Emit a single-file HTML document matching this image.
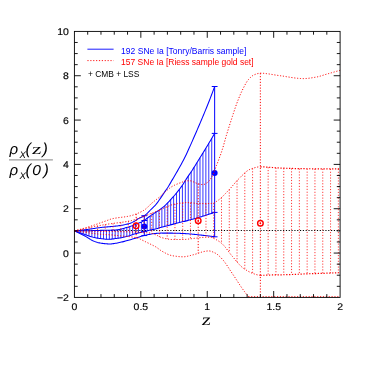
<!DOCTYPE html>
<html><head><meta charset="utf-8"><title>rho_X(z)</title>
<style>
html,body{margin:0;padding:0;background:#fff;}
body{width:371px;height:371px;overflow:hidden;font-family:"Liberation Sans",sans-serif;}
svg{display:block;will-change:transform;}
</style></head><body>
<svg width="371" height="371" viewBox="0 0 371 371">
<rect width="371" height="371" fill="#fff"/>
<path d="M74.4,230.55 H340.1" stroke="#000" stroke-width="1.1" stroke-dasharray="1.15 1.67" fill="none"/>
<path d="M74.40,230.90 L75.40,230.81 L76.40,230.72 L77.40,230.63 L78.40,230.53 L79.40,230.43 L80.40,230.32 L81.40,230.21 L82.40,230.10 L83.40,229.99 L84.40,229.87 L85.40,229.75 L86.40,229.62 L87.40,229.48 L88.40,229.34 L89.40,229.19 L90.40,229.03 L91.40,228.88 L92.40,228.72 L93.40,228.56 L94.40,228.40 L95.40,228.24 L96.40,228.09 L97.40,227.94 L98.40,227.80 L99.40,227.67 L100.40,227.55 L101.40,227.44 L102.40,227.33 L103.40,227.23 L104.40,227.14 L105.40,227.05 L106.40,226.96 L107.40,226.87 L108.40,226.79 L109.40,226.70 L110.40,226.61 L111.40,226.53 L112.40,226.43 L113.40,226.34 L114.40,226.24 L115.40,226.13 L116.40,226.02 L117.40,225.90 L118.40,225.77 L119.40,225.63 L120.40,225.48 L121.40,225.33 L122.40,225.16 L123.40,224.98 L124.40,224.79 L125.40,224.59 L126.40,224.36 L127.40,224.12 L128.40,223.86 L129.40,223.58 L130.40,223.27 L131.40,222.86 L132.40,222.36 L133.40,221.83 L134.40,221.27 L135.40,220.64 L136.40,219.96 L137.40,219.28 L138.40,218.66 L139.40,218.13 L140.40,217.66 L141.40,217.21 L142.40,216.75 L143.40,216.24 L144.40,215.63 L145.40,214.89 L146.40,214.03 L147.40,213.07 L148.40,212.06 L149.40,211.02 L150.40,210.00 L151.40,209.01 L152.40,208.05 L153.40,207.09 L154.40,206.09 L155.40,205.03 L156.40,203.90 L157.40,202.64 L158.40,201.25 L159.40,199.81 L160.40,198.37 L161.40,196.88 L162.40,195.37 L163.40,193.85 L164.40,192.36 L165.40,190.92 L166.40,189.49 L167.40,188.03 L168.40,186.48 L169.40,184.84 L170.40,183.12 L171.40,181.36 L172.40,179.62 L173.40,177.90 L174.40,176.21 L175.40,174.52 L176.40,172.82 L177.40,171.11 L178.40,169.36 L179.40,167.58 L180.40,165.76 L181.40,163.93 L182.40,162.06 L183.40,160.16 L184.40,158.22 L185.40,156.23 L186.40,154.18 L187.40,152.02 L188.40,149.80 L189.40,147.58 L190.40,145.35 L191.40,143.11 L192.40,140.85 L193.40,138.58 L194.40,136.30 L195.40,134.01 L196.40,131.71 L197.40,129.40 L198.40,127.07 L199.40,124.73 L200.40,122.38 L201.40,120.02 L202.40,117.64 L203.40,115.25 L204.40,112.83 L205.40,110.41 L206.40,107.98 L207.40,105.52 L208.40,103.02 L209.40,100.48 L210.40,97.89 L211.40,95.27 L212.40,92.61 L213.40,89.92 L214.40,87.19 L214.65,86.50" stroke="#0000ff" stroke-width="1.05" fill="none" stroke-linejoin="round"/>
<path d="M74.40,230.90 L75.40,230.90 L76.40,230.89 L77.40,230.89 L78.40,230.88 L79.40,230.87 L80.40,230.86 L81.40,230.85 L82.40,230.83 L83.40,230.82 L84.40,230.81 L85.40,230.79 L86.40,230.78 L87.40,230.76 L88.40,230.74 L89.40,230.71 L90.40,230.68 L91.40,230.66 L92.40,230.63 L93.40,230.60 L94.40,230.57 L95.40,230.54 L96.40,230.50 L97.40,230.47 L98.40,230.44 L99.40,230.42 L100.40,230.39 L101.40,230.37 L102.40,230.34 L103.40,230.32 L104.40,230.30 L105.40,230.28 L106.40,230.26 L107.40,230.24 L108.40,230.22 L109.40,230.20 L110.40,230.17 L111.40,230.14 L112.40,230.11 L113.40,230.07 L114.40,230.03 L115.40,229.98 L116.40,229.89 L117.40,229.76 L118.40,229.60 L119.40,229.41 L120.40,229.19 L121.40,228.95 L122.40,228.69 L123.40,228.42 L124.40,228.14 L125.40,227.85 L126.40,227.56 L127.40,227.27 L128.40,226.99 L129.40,226.68 L130.40,226.35 L131.40,226.01 L132.40,225.64 L133.40,225.26 L134.40,224.87 L135.40,224.47 L136.40,224.06 L137.40,223.65 L138.40,223.24 L139.40,222.83 L140.40,222.42 L141.40,222.00 L142.40,221.53 L143.40,221.02 L144.40,220.44 L145.40,219.67 L146.40,218.78 L147.40,217.97 L148.40,217.24 L149.40,216.53 L150.40,215.84 L151.40,215.17 L152.40,214.50 L153.40,213.84 L154.40,213.17 L155.40,212.51 L156.40,211.86 L157.40,211.22 L158.40,210.57 L159.40,209.89 L160.40,209.18 L161.40,208.45 L162.40,207.69 L163.40,206.89 L164.40,206.04 L165.40,205.12 L166.40,204.14 L167.40,203.13 L168.40,202.09 L169.40,201.02 L170.40,199.92 L171.40,198.79 L172.40,197.68 L173.40,196.58 L174.40,195.48 L175.40,194.36 L176.40,193.18 L177.40,191.95 L178.40,190.69 L179.40,189.39 L180.40,188.04 L181.40,186.65 L182.40,185.21 L183.40,183.67 L184.40,182.07 L185.40,180.46 L186.40,178.89 L187.40,177.38 L188.40,175.89 L189.40,174.41 L190.40,172.93 L191.40,171.44 L192.40,169.93 L193.40,168.38 L194.40,166.79 L195.40,165.19 L196.40,163.57 L197.40,161.94 L198.40,160.31 L199.40,158.69 L200.40,157.07 L201.40,155.46 L202.40,153.85 L203.40,152.24 L204.40,150.62 L205.40,148.99 L206.40,147.34 L207.40,145.68 L208.40,144.01 L209.40,142.34 L210.40,140.66 L211.40,138.96 L212.40,137.26 L213.40,135.55 L214.40,133.83 L214.65,133.40" stroke="#0000ff" stroke-width="1.05" fill="none" stroke-linejoin="round"/>
<path d="M74.40,230.90 L75.40,231.26 L76.40,231.61 L77.40,231.97 L78.40,232.32 L79.40,232.67 L80.40,233.01 L81.40,233.35 L82.40,233.69 L83.40,234.03 L84.40,234.36 L85.40,234.70 L86.40,235.05 L87.40,235.42 L88.40,235.79 L89.40,236.15 L90.40,236.49 L91.40,236.81 L92.40,237.10 L93.40,237.35 L94.40,237.56 L95.40,237.76 L96.40,237.95 L97.40,238.12 L98.40,238.28 L99.40,238.42 L100.40,238.55 L101.40,238.69 L102.40,238.82 L103.40,238.95 L104.40,239.07 L105.40,239.17 L106.40,239.25 L107.40,239.29 L108.40,239.30 L109.40,239.27 L110.40,239.20 L111.40,239.11 L112.40,239.00 L113.40,238.87 L114.40,238.74 L115.40,238.60 L116.40,238.47 L117.40,238.34 L118.40,238.19 L119.40,238.03 L120.40,237.86 L121.40,237.68 L122.40,237.49 L123.40,237.29 L124.40,237.08 L125.40,236.86 L126.40,236.61 L127.40,236.35 L128.40,236.08 L129.40,235.78 L130.40,235.47 L131.40,235.10 L132.40,234.71 L133.40,234.33 L134.40,234.01 L135.40,233.73 L136.40,233.47 L137.40,233.22 L138.40,232.99 L139.40,232.76 L140.40,232.53 L141.40,232.29 L142.40,232.05 L143.40,231.80 L144.40,231.55 L145.40,231.30 L146.40,231.05 L147.40,230.80 L148.40,230.56 L149.40,230.31 L150.40,230.08 L151.40,229.85 L152.40,229.63 L153.40,229.41 L154.40,229.18 L155.40,228.95 L156.40,228.70 L157.40,228.42 L158.40,228.13 L159.40,227.84 L160.40,227.54 L161.40,227.26 L162.40,226.98 L163.40,226.71 L164.40,226.44 L165.40,226.18 L166.40,225.92 L167.40,225.66 L168.40,225.40 L169.40,225.14 L170.40,224.88 L171.40,224.63 L172.40,224.37 L173.40,224.12 L174.40,223.86 L175.40,223.61 L176.40,223.35 L177.40,223.09 L178.40,222.84 L179.40,222.59 L180.40,222.35 L181.40,222.10 L182.40,221.86 L183.40,221.61 L184.40,221.37 L185.40,221.12 L186.40,220.87 L187.40,220.62 L188.40,220.36 L189.40,220.10 L190.40,219.84 L191.40,219.57 L192.40,219.30 L193.40,219.02 L194.40,218.74 L195.40,218.45 L196.40,218.15 L197.40,217.86 L198.40,217.56 L199.40,217.25 L200.40,216.95 L201.40,216.64 L202.40,216.32 L203.40,216.01 L204.40,215.70 L205.40,215.38 L206.40,215.06 L207.40,214.75 L208.40,214.43 L209.40,214.11 L210.40,213.79 L211.40,213.47 L212.40,213.14 L213.40,212.81 L214.40,212.48 L214.65,212.40" stroke="#0000ff" stroke-width="1.05" fill="none" stroke-linejoin="round"/>
<path d="M74.40,230.90 L75.40,231.36 L76.40,231.82 L77.40,232.29 L78.40,232.77 L79.40,233.25 L80.40,233.74 L81.40,234.22 L82.40,234.71 L83.40,235.21 L84.40,235.73 L85.40,236.26 L86.40,236.85 L87.40,237.48 L88.40,238.13 L89.40,238.79 L90.40,239.42 L91.40,240.01 L92.40,240.54 L93.40,240.98 L94.40,241.38 L95.40,241.76 L96.40,242.10 L97.40,242.40 L98.40,242.66 L99.40,242.87 L100.40,243.07 L101.40,243.24 L102.40,243.39 L103.40,243.52 L104.40,243.62 L105.40,243.71 L106.40,243.80 L107.40,243.87 L108.40,243.92 L109.40,243.95 L110.40,243.93 L111.40,243.86 L112.40,243.75 L113.40,243.62 L114.40,243.48 L115.40,243.34 L116.40,243.18 L117.40,242.98 L118.40,242.77 L119.40,242.55 L120.40,242.33 L121.40,242.11 L122.40,241.87 L123.40,241.63 L124.40,241.37 L125.40,241.10 L126.40,240.81 L127.40,240.52 L128.40,240.24 L129.40,239.97 L130.40,239.69 L131.40,239.40 L132.40,239.11 L133.40,238.81 L134.40,238.51 L135.40,238.20 L136.40,237.88 L137.40,237.56 L138.40,237.24 L139.40,236.92 L140.40,236.61 L141.40,236.32 L142.40,236.05 L143.40,235.78 L144.40,235.52 L145.40,235.26 L146.40,235.02 L147.40,234.79 L148.40,234.57 L149.40,234.36 L150.40,234.18 L151.40,234.01 L152.40,233.85 L153.40,233.70 L154.40,233.56 L155.40,233.45 L156.40,233.37 L157.40,233.29 L158.40,233.22 L159.40,233.16 L160.40,233.12 L161.40,233.10 L162.40,233.10 L163.40,233.10 L164.40,233.10 L165.40,233.10 L166.40,233.10 L167.40,233.10 L168.40,233.10 L169.40,233.10 L170.40,233.11 L171.40,233.12 L172.40,233.13 L173.40,233.15 L174.40,233.18 L175.40,233.21 L176.40,233.24 L177.40,233.27 L178.40,233.31 L179.40,233.35 L180.40,233.39 L181.40,233.43 L182.40,233.47 L183.40,233.51 L184.40,233.56 L185.40,233.62 L186.40,233.68 L187.40,233.75 L188.40,233.82 L189.40,233.90 L190.40,233.98 L191.40,234.07 L192.40,234.17 L193.40,234.26 L194.40,234.36 L195.40,234.47 L196.40,234.57 L197.40,234.68 L198.40,234.79 L199.40,234.90 L200.40,235.02 L201.40,235.13 L202.40,235.24 L203.40,235.36 L204.40,235.47 L205.40,235.58 L206.40,235.70 L207.40,235.82 L208.40,235.94 L209.40,236.07 L210.40,236.21 L211.40,236.34 L212.40,236.48 L213.40,236.62 L214.40,236.76 L214.65,236.80" stroke="#0000ff" stroke-width="1.05" fill="none" stroke-linejoin="round"/>
<path d="M77.31,230.89 V231.94 M80.23,230.86 V232.95 M83.14,230.82 V233.94 M86.05,230.78 V234.93 M88.96,230.72 V235.99 M91.88,230.64 V236.96 M94.79,230.55 V237.64 M97.70,230.47 V238.17 M100.61,230.38 V238.58 M103.53,230.32 V238.97 M106.44,230.26 V239.25 M109.35,230.20 V239.27 M112.26,230.11 V239.01 M115.18,229.99 V238.63 M118.09,229.66 V238.24 M121.00,229.05 V237.75 M123.91,228.28 V237.18 M126.83,227.44 V236.50 M129.74,226.57 V235.68 M132.65,225.55 V234.61 M135.56,224.40 V233.69 M138.48,223.21 V232.97 M141.39,222.00 V232.30 M147.23,218.10 V230.85 M150.16,216.01 V230.13 M153.09,214.04 V229.47 M156.03,212.10 V228.79 M158.96,210.20 V227.97 M161.89,208.09 V227.12 M164.82,205.66 V226.33 M167.75,202.76 V225.57 M170.68,199.60 V224.81 M173.61,196.35 V224.06 M176.54,193.01 V223.31 M179.48,189.29 V222.58 M182.41,185.20 V221.85 M185.34,180.56 V221.13 M188.27,176.08 V220.40 M191.20,171.74 V219.63 M194.13,167.22 V218.81 M197.06,162.49 V217.96 M199.99,157.73 V217.07 M202.93,153.01 V216.16 M205.86,148.24 V215.24 M208.79,143.37 V214.31 M211.72,138.42 V213.36" stroke="#0000ff" stroke-width="0.8" fill="none"/>
<path d="M144.3,215.70 V235.55 M141.40,215.70 h5.8 M141.40,220.50 h5.8 M141.40,231.58 h5.8 M141.40,235.55 h5.8 M214.65,86.50 V236.80 M211.75,86.50 h5.8 M211.75,133.40 h5.8 M211.75,212.40 h5.8 M211.75,236.80 h5.8" stroke="#0000ff" stroke-width="1.0" fill="none"/>
<circle cx="144.3" cy="226.4" r="3.0" fill="#0000ff"/>
<circle cx="214.65" cy="172.95" r="3.0" fill="#0000ff"/>
<path d="M74.40,230.90 L75.40,230.65 L76.40,230.39 L77.40,230.13 L78.40,229.86 L79.40,229.59 L80.40,229.31 L81.40,229.03 L82.40,228.74 L83.40,228.45 L84.40,228.15 L85.40,227.85 L86.40,227.55 L87.40,227.24 L88.40,226.93 L89.40,226.62 L90.40,226.30 L91.40,225.98 L92.40,225.66 L93.40,225.33 L94.40,225.00 L95.40,224.65 L96.40,224.29 L97.40,223.93 L98.40,223.57 L99.40,223.21 L100.40,222.86 L101.40,222.51 L102.40,222.16 L103.40,221.81 L104.40,221.46 L105.40,221.11 L106.40,220.76 L107.40,220.38 L108.40,219.99 L109.40,219.61 L110.40,219.26 L111.40,218.95 L112.40,218.71 L113.40,218.49 L114.40,218.30 L115.40,218.13 L116.40,217.97 L117.40,217.82 L118.40,217.68 L119.40,217.55 L120.40,217.42 L121.40,217.30 L122.40,217.17 L123.40,217.05 L124.40,216.91 L125.40,216.76 L126.40,216.61 L127.40,216.44 L128.40,216.25 L129.40,216.04 L130.40,215.80 L131.40,215.55 L132.40,215.27 L133.40,214.96 L134.40,214.63 L135.40,214.27 L136.40,213.89 L137.40,213.49 L138.40,213.06 L139.40,212.61 L140.40,212.13 L141.40,211.63 L142.40,211.10 L143.40,210.54 L144.40,209.95 L145.40,209.23 L146.40,208.39 L147.40,207.45 L148.40,206.46 L149.40,205.45 L150.40,204.46 L151.40,203.52 L152.40,202.67 L153.40,201.85 L154.40,201.06 L155.40,200.27 L156.40,199.49 L157.40,198.73 L158.40,197.97 L159.40,197.19 L160.40,196.33 L161.40,195.37 L162.40,194.36 L163.40,193.36 L164.40,192.43 L165.40,191.57 L166.40,190.73 L167.40,189.93 L168.40,189.14 L169.40,188.37 L170.40,187.61 L171.40,186.90 L172.40,186.28 L173.40,185.74 L174.40,185.25 L175.40,184.79 L176.40,184.36 L177.40,183.94 L178.40,183.54 L179.40,183.15 L180.40,182.78 L181.40,182.41 L182.40,182.05 L183.40,181.62 L184.40,181.19 L185.40,180.89 L186.40,180.80 L187.40,180.80 L188.40,180.80 L189.40,180.80 L190.40,180.82 L191.40,181.02 L192.40,181.39 L193.40,181.85 L194.40,182.35 L195.40,182.81 L196.40,183.17 L197.40,183.45 L198.40,183.75 L199.40,184.03 L200.40,184.28 L201.40,184.47 L202.40,184.58 L203.40,184.58 L204.40,184.34 L205.40,183.87 L206.40,183.23 L207.40,182.47 L208.40,181.62 L209.40,180.70 L210.40,179.38 L211.40,177.76 L212.40,176.02 L213.40,173.98 L214.40,171.40 L215.40,168.36 L216.40,165.68 L217.40,163.12 L218.40,160.53 L219.40,157.86 L220.40,155.14 L221.40,152.30 L222.40,149.26 L223.40,145.91 L224.40,142.36 L225.40,138.78 L226.40,135.33 L227.40,132.06 L228.40,128.85 L229.40,125.69 L230.40,122.58 L231.40,119.51 L232.40,116.43 L233.40,113.34 L234.40,110.28 L235.40,107.30 L236.40,104.45 L237.40,101.78 L238.40,99.22 L239.40,96.74 L240.40,94.37 L241.40,92.12 L242.40,90.00 L243.40,88.02 L244.40,86.07 L245.40,84.19 L246.40,82.45 L247.40,80.90 L248.40,79.61 L249.40,78.52 L250.40,77.51 L251.40,76.60 L252.40,75.81 L253.40,75.18 L254.40,74.72 L255.40,74.33 L256.40,73.98 L257.40,73.66 L258.40,73.42 L259.40,73.26 L260.40,73.20 L261.40,73.21 L262.40,73.25 L263.40,73.31 L264.40,73.39 L265.40,73.49 L266.40,73.61 L267.40,73.74 L268.40,73.88 L269.40,74.03 L270.40,74.19 L271.40,74.36 L272.40,74.52 L273.40,74.69 L274.40,74.86 L275.40,75.03 L276.40,75.19 L277.40,75.34 L278.40,75.48 L279.40,75.61 L280.40,75.74 L281.40,75.88 L282.40,76.03 L283.40,76.18 L284.40,76.34 L285.40,76.50 L286.40,76.67 L287.40,76.83 L288.40,77.00 L289.40,77.16 L290.40,77.32 L291.40,77.48 L292.40,77.63 L293.40,77.78 L294.40,77.91 L295.40,78.04 L296.40,78.16 L297.40,78.27 L298.40,78.36 L299.40,78.44 L300.40,78.51 L301.40,78.56 L302.40,78.59 L303.40,78.60 L304.40,78.59 L305.40,78.55 L306.40,78.48 L307.40,78.40 L308.40,78.29 L309.40,78.17 L310.40,78.03 L311.40,77.88 L312.40,77.72 L313.40,77.56 L314.40,77.40 L315.40,77.23 L316.40,77.06 L317.40,76.85 L318.40,76.61 L319.40,76.35 L320.40,76.07 L321.40,75.77 L322.40,75.46 L323.40,75.15 L324.40,74.83 L325.40,74.52 L326.40,74.21 L327.40,73.91 L328.40,73.63 L329.40,73.35 L330.40,73.07 L331.40,72.78 L332.40,72.50 L333.40,72.22 L334.40,71.93 L335.40,71.65 L336.40,71.36 L337.40,71.07 L338.40,70.79 L339.40,70.50 L340.10,70.30" stroke="#ff0000" stroke-width="1.0" stroke-dasharray="1.15 1.72" fill="none"/>
<path d="M74.40,230.90 L75.40,230.67 L76.40,230.44 L77.40,230.21 L78.40,229.98 L79.40,229.76 L80.40,229.54 L81.40,229.32 L82.40,229.10 L83.40,228.88 L84.40,228.67 L85.40,228.45 L86.40,228.24 L87.40,228.03 L88.40,227.82 L89.40,227.61 L90.40,227.41 L91.40,227.20 L92.40,227.00 L93.40,226.80 L94.40,226.60 L95.40,226.40 L96.40,226.20 L97.40,226.01 L98.40,225.81 L99.40,225.62 L100.40,225.42 L101.40,225.23 L102.40,225.04 L103.40,224.86 L104.40,224.68 L105.40,224.50 L106.40,224.33 L107.40,224.18 L108.40,224.02 L109.40,223.88 L110.40,223.74 L111.40,223.61 L112.40,223.48 L113.40,223.35 L114.40,223.23 L115.40,223.10 L116.40,222.98 L117.40,222.86 L118.40,222.73 L119.40,222.61 L120.40,222.48 L121.40,222.34 L122.40,222.20 L123.40,222.06 L124.40,221.91 L125.40,221.75 L126.40,221.58 L127.40,221.41 L128.40,221.22 L129.40,221.02 L130.40,220.81 L131.40,220.58 L132.40,220.31 L133.40,220.02 L134.40,219.71 L135.40,219.38 L136.40,219.03 L137.40,218.67 L138.40,218.30 L139.40,217.93 L140.40,217.55 L141.40,217.17 L142.40,216.79 L143.40,216.42 L144.40,216.05 L145.40,215.68 L146.40,215.30 L147.40,214.92 L148.40,214.53 L149.40,214.13 L150.40,213.73 L151.40,213.33 L152.40,212.93 L153.40,212.53 L154.40,212.13 L155.40,211.74 L156.40,211.35 L157.40,210.97 L158.40,210.59 L159.40,210.20 L160.40,209.76 L161.40,209.27 L162.40,208.74 L163.40,208.23 L164.40,207.77 L165.40,207.36 L166.40,206.98 L167.40,206.61 L168.40,206.22 L169.40,205.79 L170.40,205.36 L171.40,204.96 L172.40,204.64 L173.40,204.39 L174.40,204.16 L175.40,203.96 L176.40,203.78 L177.40,203.61 L178.40,203.46 L179.40,203.32 L180.40,203.19 L181.40,203.05 L182.40,202.91 L183.40,202.78 L184.40,202.67 L185.40,202.61 L186.40,202.60 L187.40,202.61 L188.40,202.63 L189.40,202.66 L190.40,202.70 L191.40,202.76 L192.40,202.88 L193.40,203.04 L194.40,203.21 L195.40,203.37 L196.40,203.50 L197.40,203.59 L198.40,203.60 L199.40,203.60 L200.40,203.60 L201.40,203.59 L202.40,203.59 L203.40,203.58 L204.40,203.57 L205.40,203.55 L206.40,203.54 L207.40,203.52 L208.40,203.50 L209.40,203.48 L210.40,203.46 L211.40,203.43 L212.40,203.40 L213.40,203.21 L214.40,202.77 L215.40,202.16 L216.40,201.48 L217.40,200.80 L218.40,200.11 L219.40,199.34 L220.40,198.50 L221.40,197.60 L222.40,196.66 L223.40,195.67 L224.40,194.65 L225.40,193.62 L226.40,192.57 L227.40,191.53 L228.40,190.50 L229.40,189.45 L230.40,188.34 L231.40,187.20 L232.40,186.02 L233.40,184.84 L234.40,183.65 L235.40,182.48 L236.40,181.34 L237.40,180.24 L238.40,179.19 L239.40,178.21 L240.40,177.22 L241.40,176.21 L242.40,175.20 L243.40,174.21 L244.40,173.26 L245.40,172.35 L246.40,171.52 L247.40,170.77 L248.40,170.13 L249.40,169.61 L250.40,169.21 L251.40,168.84 L252.40,168.48 L253.40,168.14 L254.40,167.83 L255.40,167.54 L256.40,167.30 L257.40,167.09 L258.40,166.94 L259.40,166.84 L260.35,166.80" stroke="#ff0000" stroke-width="1.0" stroke-dasharray="1.15 1.72" fill="none"/>
<path d="M74.40,230.90 L75.40,230.92 L76.40,230.94 L77.40,230.96 L78.40,230.98 L79.40,231.00 L80.40,231.02 L81.40,231.04 L82.40,231.06 L83.40,231.08 L84.40,231.10 L85.40,231.12 L86.40,231.14 L87.40,231.15 L88.40,231.17 L89.40,231.19 L90.40,231.21 L91.40,231.22 L92.40,231.24 L93.40,231.25 L94.40,231.27 L95.40,231.28 L96.40,231.30 L97.40,231.31 L98.40,231.33 L99.40,231.34 L100.40,231.35 L101.40,231.37 L102.40,231.38 L103.40,231.40 L104.40,231.41 L105.40,231.43 L106.40,231.44 L107.40,231.46 L108.40,231.47 L109.40,231.49 L110.40,231.51 L111.40,231.52 L112.40,231.54 L113.40,231.56 L114.40,231.57 L115.40,231.59 L116.40,231.60 L117.40,231.62 L118.40,231.63 L119.40,231.65 L120.40,231.67 L121.40,231.68 L122.40,231.70 L123.40,231.72 L124.40,231.74 L125.40,231.76 L126.40,231.78 L127.40,231.80 L128.40,231.82 L129.40,231.85 L130.40,231.87 L131.40,231.90 L132.40,231.93 L133.40,231.97 L134.40,232.00 L135.40,232.04 L136.40,232.08 L137.40,232.12 L138.40,232.20 L139.40,232.31 L140.40,232.42 L141.40,232.53 L142.40,232.61 L143.40,232.66 L144.40,232.71 L145.40,232.74 L146.40,232.78 L147.40,232.82 L148.40,232.87 L149.40,232.93 L150.40,233.01 L151.40,233.18 L152.40,233.47 L153.40,233.83 L154.40,234.24 L155.40,234.66 L156.40,235.07 L157.40,235.56 L158.40,236.11 L159.40,236.66 L160.40,237.16 L161.40,237.54 L162.40,237.82 L163.40,238.08 L164.40,238.34 L165.40,238.58 L166.40,238.80 L167.40,239.00 L168.40,239.17 L169.40,239.31 L170.40,239.42 L171.40,239.48 L172.40,239.50 L173.40,239.50 L174.40,239.50 L175.40,239.50 L176.40,239.50 L177.40,239.50 L178.40,239.50 L179.40,239.50 L180.40,239.50 L181.40,239.50 L182.40,239.50 L183.40,239.50 L184.40,239.47 L185.40,239.41 L186.40,239.33 L187.40,239.22 L188.40,239.10 L189.40,238.97 L190.40,238.83 L191.40,238.70 L192.40,238.57 L193.40,238.45 L194.40,238.35 L195.40,238.23 L196.40,238.11 L197.40,237.99 L198.40,237.86 L199.40,237.74 L200.40,237.62 L201.40,237.52 L202.40,237.43 L203.40,237.36 L204.40,237.31 L205.40,237.28 L206.40,237.26 L207.40,237.24 L208.40,237.22 L209.40,237.21 L210.40,237.20 L211.40,237.26 L212.40,237.59 L213.40,238.10 L214.40,238.68 L215.40,239.21 L216.40,239.75 L217.40,240.33 L218.40,240.95 L219.40,241.62 L220.40,242.35 L221.40,243.14 L222.40,244.01 L223.40,245.02 L224.40,246.15 L225.40,247.36 L226.40,248.64 L227.40,249.97 L228.40,251.31 L229.40,252.65 L230.40,253.97 L231.40,255.23 L232.40,256.42 L233.40,257.59 L234.40,258.78 L235.40,259.98 L236.40,261.18 L237.40,262.36 L238.40,263.51 L239.40,264.62 L240.40,265.67 L241.40,266.64 L242.40,267.53 L243.40,268.33 L244.40,269.03 L245.40,269.65 L246.40,270.23 L247.40,270.79 L248.40,271.35 L249.40,271.90 L250.40,272.41 L251.40,272.89 L252.40,273.31 L253.40,273.67 L254.40,273.99 L255.40,274.30 L256.40,274.61 L257.40,274.87 L258.40,275.09 L259.40,275.24 L260.35,275.30" stroke="#ff0000" stroke-width="1.0" stroke-dasharray="1.15 1.72" fill="none"/>
<path d="M74.40,230.90 L75.40,231.04 L76.40,231.18 L77.40,231.33 L78.40,231.46 L79.40,231.60 L80.40,231.74 L81.40,231.88 L82.40,232.01 L83.40,232.14 L84.40,232.28 L85.40,232.41 L86.40,232.54 L87.40,232.67 L88.40,232.80 L89.40,232.92 L90.40,233.05 L91.40,233.18 L92.40,233.31 L93.40,233.45 L94.40,233.58 L95.40,233.71 L96.40,233.83 L97.40,233.95 L98.40,234.05 L99.40,234.15 L100.40,234.23 L101.40,234.30 L102.40,234.37 L103.40,234.42 L104.40,234.48 L105.40,234.53 L106.40,234.58 L107.40,234.63 L108.40,234.69 L109.40,234.76 L110.40,234.83 L111.40,234.92 L112.40,235.01 L113.40,235.11 L114.40,235.21 L115.40,235.32 L116.40,235.43 L117.40,235.54 L118.40,235.65 L119.40,235.76 L120.40,235.86 L121.40,235.96 L122.40,236.05 L123.40,236.13 L124.40,236.22 L125.40,236.30 L126.40,236.38 L127.40,236.47 L128.40,236.56 L129.40,236.65 L130.40,236.76 L131.40,236.88 L132.40,237.01 L133.40,237.17 L134.40,237.36 L135.40,237.55 L136.40,237.76 L137.40,238.00 L138.40,238.30 L139.40,238.70 L140.40,239.18 L141.40,239.70 L142.40,240.20 L143.40,240.69 L144.40,241.19 L145.40,241.70 L146.40,242.20 L147.40,242.69 L148.40,243.17 L149.40,243.66 L150.40,244.15 L151.40,244.64 L152.40,245.12 L153.40,245.60 L154.40,246.11 L155.40,246.65 L156.40,247.25 L157.40,247.95 L158.40,248.71 L159.40,249.49 L160.40,250.23 L161.40,250.89 L162.40,251.45 L163.40,252.01 L164.40,252.56 L165.40,253.09 L166.40,253.61 L167.40,254.09 L168.40,254.53 L169.40,254.92 L170.40,255.25 L171.40,255.52 L172.40,255.72 L173.40,255.88 L174.40,256.03 L175.40,256.18 L176.40,256.32 L177.40,256.44 L178.40,256.55 L179.40,256.64 L180.40,256.71 L181.40,256.76 L182.40,256.79 L183.40,256.80 L184.40,256.75 L185.40,256.64 L186.40,256.48 L187.40,256.28 L188.40,256.05 L189.40,255.80 L190.40,255.53 L191.40,255.26 L192.40,254.98 L193.40,254.72 L194.40,254.47 L195.40,254.19 L196.40,253.88 L197.40,253.55 L198.40,253.21 L199.40,252.87 L200.40,252.53 L201.40,252.21 L202.40,251.92 L203.40,251.66 L204.40,251.45 L205.40,251.28 L206.40,251.11 L207.40,250.97 L208.40,250.90 L209.40,250.95 L210.40,251.13 L211.40,251.41 L212.40,251.78 L213.40,252.21 L214.40,252.67 L215.40,253.15 L216.40,253.74 L217.40,254.46 L218.40,255.29 L219.40,256.21 L220.40,257.18 L221.40,258.20 L222.40,259.26 L223.40,260.45 L224.40,261.74 L225.40,263.11 L226.40,264.56 L227.40,266.05 L228.40,267.58 L229.40,269.12 L230.40,270.66 L231.40,272.17 L232.40,273.65 L233.40,275.12 L234.40,276.63 L235.40,278.15 L236.40,279.69 L237.40,281.23 L238.40,282.77 L239.40,284.29 L240.40,285.80 L241.40,287.28 L242.40,288.72 L243.40,290.11 L244.40,291.47 L245.40,292.80 L246.40,294.10 L247.40,295.37 L248.30,296.50" stroke="#ff0000" stroke-width="1.0" stroke-dasharray="1.15 1.72" fill="none"/>
<path d="M248.3,296.65 H340.1" stroke="#ff0000" stroke-width="0.9" stroke-dasharray="1.15 1.72" fill="none"/>
<path d="M82.12,229.16 V231.06 M89.85,227.52 V231.20 M97.58,225.97 V231.31 M105.30,224.52 V231.42 M113.02,223.40 V231.55 M120.75,222.43 V231.67 M128.47,221.21 V231.82 M143.95,216.22 V232.69 M151.70,213.21 V233.26 M159.45,210.18 V236.69 M167.20,206.68 V238.96 M174.95,204.05 V239.50 M182.70,202.87 V239.50 M190.45,202.70 V238.83 M205.97,203.55 V237.27 M213.74,203.09 V238.30 M221.51,197.51 V243.22 M229.28,189.58 V252.49 M237.04,180.62 V261.94 M244.81,172.88 V269.29 M252.58,168.42 V273.38 M268.15,167.16 V275.10 M275.95,167.81 V274.91 M283.75,168.18 V274.77 M291.55,168.45 V274.53 M299.35,168.64 V274.18 M307.15,168.73 V273.84 M314.95,168.80 V273.57 M322.75,168.85 V273.33 M330.55,168.88 V273.07 M338.35,168.90 V272.77" stroke="#ff0000" stroke-width="0.8" stroke-dasharray="1.15 1.72" fill="none"/>
<path d="M260.35,166.80 L261.35,166.81 L262.35,166.83 L263.35,166.86 L264.35,166.91 L265.35,166.96 L266.35,167.03 L267.35,167.10 L268.35,167.18 L269.35,167.26 L270.35,167.34 L271.35,167.43 L272.35,167.52 L273.35,167.60 L274.35,167.69 L275.35,167.76 L276.35,167.84 L277.35,167.90 L278.35,167.96 L279.35,168.00 L280.35,168.04 L281.35,168.08 L282.35,168.12 L283.35,168.16 L284.35,168.20 L285.35,168.24 L286.35,168.27 L287.35,168.31 L288.35,168.34 L289.35,168.38 L290.35,168.41 L291.35,168.44 L292.35,168.47 L293.35,168.50 L294.35,168.53 L295.35,168.55 L296.35,168.58 L297.35,168.60 L298.35,168.62 L299.35,168.64 L300.35,168.66 L301.35,168.67 L302.35,168.69 L303.35,168.70 L304.35,168.71 L305.35,168.72 L306.35,168.73 L307.35,168.74 L308.35,168.74 L309.35,168.75 L310.35,168.76 L311.35,168.77 L312.35,168.78 L313.35,168.79 L314.35,168.79 L315.35,168.80 L316.35,168.81 L317.35,168.82 L318.35,168.82 L319.35,168.83 L320.35,168.84 L321.35,168.84 L322.35,168.85 L323.35,168.85 L324.35,168.86 L325.35,168.86 L326.35,168.87 L327.35,168.87 L328.35,168.88 L329.35,168.88 L330.35,168.88 L331.35,168.89 L332.35,168.89 L333.35,168.89 L334.35,168.89 L335.35,168.90 L336.35,168.90 L337.35,168.90 L338.35,168.90 L339.35,168.90 L340.10,168.90" stroke="#ff0000" stroke-width="1.2" stroke-dasharray="1.3 1.57" fill="none"/>
<path d="M260.35,275.30 L261.35,275.30 L262.35,275.28 L263.35,275.26 L264.35,275.23 L265.35,275.20 L266.35,275.16 L267.35,275.13 L268.35,275.09 L269.35,275.05 L270.35,275.02 L271.35,275.00 L272.35,274.97 L273.35,274.95 L274.35,274.93 L275.35,274.92 L276.35,274.90 L277.35,274.88 L278.35,274.86 L279.35,274.85 L280.35,274.83 L281.35,274.81 L282.35,274.79 L283.35,274.77 L284.35,274.75 L285.35,274.73 L286.35,274.71 L287.35,274.68 L288.35,274.65 L289.35,274.62 L290.35,274.58 L291.35,274.54 L292.35,274.50 L293.35,274.46 L294.35,274.42 L295.35,274.37 L296.35,274.32 L297.35,274.28 L298.35,274.23 L299.35,274.18 L300.35,274.14 L301.35,274.09 L302.35,274.04 L303.35,274.00 L304.35,273.95 L305.35,273.91 L306.35,273.87 L307.35,273.83 L308.35,273.79 L309.35,273.76 L310.35,273.72 L311.35,273.69 L312.35,273.65 L313.35,273.62 L314.35,273.59 L315.35,273.56 L316.35,273.53 L317.35,273.49 L318.35,273.46 L319.35,273.43 L320.35,273.40 L321.35,273.37 L322.35,273.34 L323.35,273.31 L324.35,273.28 L325.35,273.25 L326.35,273.21 L327.35,273.18 L328.35,273.15 L329.35,273.11 L330.35,273.08 L331.35,273.04 L332.35,273.00 L333.35,272.97 L334.35,272.93 L335.35,272.89 L336.35,272.85 L337.35,272.81 L338.35,272.77 L339.35,272.73 L340.10,272.70" stroke="#ff0000" stroke-width="1.2" stroke-dasharray="1.3 1.57" fill="none"/>
<path d="M136.20,213.97 V237.71 M198.20,183.69 V253.28 M260.35,73.20 V297.4" stroke="#ff0000" stroke-width="1.0" stroke-dasharray="1.15 1.72" fill="none"/>
<circle cx="136.1" cy="225.8" r="2.8" fill="none" stroke="#ff0000" stroke-width="1.4"/>
<circle cx="136.1" cy="225.8" r="0.85" fill="#ff0000"/>
<circle cx="198.2" cy="220.7" r="2.8" fill="none" stroke="#ff0000" stroke-width="1.4"/>
<circle cx="198.2" cy="220.7" r="0.85" fill="#ff0000"/>
<circle cx="260.4" cy="223.3" r="2.8" fill="none" stroke="#ff0000" stroke-width="1.4"/>
<circle cx="260.4" cy="223.3" r="0.85" fill="#ff0000"/>
<rect x="74.4" y="31.4" width="265.70" height="266.00" fill="none" stroke="#000" stroke-width="0.9"/>
<path d="M87.69,297.4 v-3.3 M87.69,31.4 v3.3 M100.97,297.4 v-3.3 M100.97,31.4 v3.3 M114.26,297.4 v-3.3 M114.26,31.4 v3.3 M127.54,297.4 v-3.3 M127.54,31.4 v3.3 M140.83,297.4 v-6.4 M140.83,31.4 v6.4 M154.11,297.4 v-3.3 M154.11,31.4 v3.3 M167.40,297.4 v-3.3 M167.40,31.4 v3.3 M180.68,297.4 v-3.3 M180.68,31.4 v3.3 M193.97,297.4 v-3.3 M193.97,31.4 v3.3 M207.25,297.4 v-6.4 M207.25,31.4 v6.4 M220.54,297.4 v-3.3 M220.54,31.4 v3.3 M233.82,297.4 v-3.3 M233.82,31.4 v3.3 M247.11,297.4 v-3.3 M247.11,31.4 v3.3 M260.39,297.4 v-3.3 M260.39,31.4 v3.3 M273.68,297.4 v-6.4 M273.68,31.4 v6.4 M286.96,297.4 v-3.3 M286.96,31.4 v3.3 M300.25,297.4 v-3.3 M300.25,31.4 v3.3 M313.53,297.4 v-3.3 M313.53,31.4 v3.3 M326.82,297.4 v-3.3 M326.82,31.4 v3.3 M74.4,286.32 h3.3 M340.1,286.32 h-3.3 M74.4,275.23 h3.3 M340.1,275.23 h-3.3 M74.4,264.15 h3.3 M340.1,264.15 h-3.3 M74.4,253.07 h6.4 M340.1,253.07 h-6.4 M74.4,241.98 h3.3 M340.1,241.98 h-3.3 M74.4,230.90 h3.3 M340.1,230.90 h-3.3 M74.4,219.82 h3.3 M340.1,219.82 h-3.3 M74.4,208.73 h6.4 M340.1,208.73 h-6.4 M74.4,197.65 h3.3 M340.1,197.65 h-3.3 M74.4,186.57 h3.3 M340.1,186.57 h-3.3 M74.4,175.48 h3.3 M340.1,175.48 h-3.3 M74.4,164.40 h6.4 M340.1,164.40 h-6.4 M74.4,153.32 h3.3 M340.1,153.32 h-3.3 M74.4,142.23 h3.3 M340.1,142.23 h-3.3 M74.4,131.15 h3.3 M340.1,131.15 h-3.3 M74.4,120.07 h6.4 M340.1,120.07 h-6.4 M74.4,108.98 h3.3 M340.1,108.98 h-3.3 M74.4,97.90 h3.3 M340.1,97.90 h-3.3 M74.4,86.82 h3.3 M340.1,86.82 h-3.3 M74.4,75.73 h6.4 M340.1,75.73 h-6.4 M74.4,64.65 h3.3 M340.1,64.65 h-3.3 M74.4,53.57 h3.3 M340.1,53.57 h-3.3 M74.4,42.48 h3.3 M340.1,42.48 h-3.3" stroke="#000" stroke-width="0.9" fill="none"/>
<path d="M87.4,49.2 H113.6" stroke="#0000ff" stroke-width="0.9"/>
<path d="M87.4,60.6 H113.6" stroke="#ff0000" stroke-width="0.9" stroke-dasharray="1.2 1.68"/>
<text x="121.1" y="53.8" font-family="Liberation Sans, sans-serif" font-size="8.6" fill="#0000ff" textLength="125.3" lengthAdjust="spacingAndGlyphs">192 SNe Ia [Tonry/Barris sample]</text>
<text x="121.1" y="65.2" font-family="Liberation Sans, sans-serif" font-size="8.6" fill="#ff0000" textLength="132.5" lengthAdjust="spacingAndGlyphs">157 SNe Ia [Riess sample gold set]</text>
<text x="87.9" y="76.8" font-family="Liberation Sans, sans-serif" font-size="8.6" fill="#000" textLength="51.4" lengthAdjust="spacingAndGlyphs">+ CMB + LSS</text>
<text transform="translate(68.9 34.90) scale(1.08 1)" font-family="Liberation Sans, sans-serif" font-size="9.7" style="text-rendering:geometricPrecision" text-anchor="end" fill="#000" stroke="#000" stroke-width="0.15">10</text>
<text transform="translate(68.9 79.23) scale(1.08 1)" font-family="Liberation Sans, sans-serif" font-size="9.7" style="text-rendering:geometricPrecision" text-anchor="end" fill="#000" stroke="#000" stroke-width="0.15">8</text>
<text transform="translate(68.9 123.57) scale(1.08 1)" font-family="Liberation Sans, sans-serif" font-size="9.7" style="text-rendering:geometricPrecision" text-anchor="end" fill="#000" stroke="#000" stroke-width="0.15">6</text>
<text transform="translate(68.9 167.90) scale(1.08 1)" font-family="Liberation Sans, sans-serif" font-size="9.7" style="text-rendering:geometricPrecision" text-anchor="end" fill="#000" stroke="#000" stroke-width="0.15">4</text>
<text transform="translate(68.9 212.23) scale(1.08 1)" font-family="Liberation Sans, sans-serif" font-size="9.7" style="text-rendering:geometricPrecision" text-anchor="end" fill="#000" stroke="#000" stroke-width="0.15">2</text>
<text transform="translate(68.9 256.57) scale(1.08 1)" font-family="Liberation Sans, sans-serif" font-size="9.7" style="text-rendering:geometricPrecision" text-anchor="end" fill="#000" stroke="#000" stroke-width="0.15">0</text>
<text transform="translate(68.9 300.90) scale(1.08 1)" font-family="Liberation Sans, sans-serif" font-size="9.7" style="text-rendering:geometricPrecision" text-anchor="end" fill="#000" stroke="#000" stroke-width="0.15">−2</text>
<text transform="translate(74.40 309.5) scale(1.08 1)" font-family="Liberation Sans, sans-serif" font-size="9.7" style="text-rendering:geometricPrecision" text-anchor="middle" fill="#000" stroke="#000" stroke-width="0.15">0</text>
<text transform="translate(140.83 309.5) scale(1.08 1)" font-family="Liberation Sans, sans-serif" font-size="9.7" style="text-rendering:geometricPrecision" text-anchor="middle" fill="#000" stroke="#000" stroke-width="0.15">0.5</text>
<text transform="translate(207.25 309.5) scale(1.08 1)" font-family="Liberation Sans, sans-serif" font-size="9.7" style="text-rendering:geometricPrecision" text-anchor="middle" fill="#000" stroke="#000" stroke-width="0.15">1</text>
<text transform="translate(273.68 309.5) scale(1.08 1)" font-family="Liberation Sans, sans-serif" font-size="9.7" style="text-rendering:geometricPrecision" text-anchor="middle" fill="#000" stroke="#000" stroke-width="0.15">1.5</text>
<text transform="translate(340.10 309.5) scale(1.08 1)" font-family="Liberation Sans, sans-serif" font-size="9.7" style="text-rendering:geometricPrecision" text-anchor="middle" fill="#000" stroke="#000" stroke-width="0.15">2</text>
<text transform="translate(201.3 325.2) skewX(-8) scale(1.26 1)" font-family="Liberation Serif, serif" font-size="16.2" fill="#000" style="text-rendering:geometricPrecision">z</text>
<path d="M9,159.9 H52.9" stroke="#666" stroke-width="0.8"/>
<text x="9.4" y="153.9" font-family="Liberation Sans, sans-serif" font-size="15" font-style="italic" fill="#000" style="text-rendering:geometricPrecision">ρ</text>
<text x="19.5" y="157.8" font-family="Liberation Sans, sans-serif" font-size="9.6" font-style="italic" fill="#000" style="text-rendering:geometricPrecision">X</text>
<text x="25.4" y="153.9" font-family="Liberation Sans, sans-serif" font-size="16" font-style="italic" fill="#000" style="text-rendering:geometricPrecision">(</text>
<text transform="translate(31.6 153.9) skewX(-8) scale(1.38 1)" font-family="Liberation Serif, serif" font-size="15.4" fill="#000" style="text-rendering:geometricPrecision">z</text>
<text x="42.5" y="153.9" font-family="Liberation Sans, sans-serif" font-size="16" font-style="italic" fill="#000" style="text-rendering:geometricPrecision">)</text>
<text x="9.4" y="175.3" font-family="Liberation Sans, sans-serif" font-size="15" font-style="italic" fill="#000" style="text-rendering:geometricPrecision">ρ</text>
<text x="19.5" y="179.20000000000002" font-family="Liberation Sans, sans-serif" font-size="9.6" font-style="italic" fill="#000" style="text-rendering:geometricPrecision">X</text>
<text x="25.4" y="175.3" font-family="Liberation Sans, sans-serif" font-size="16" font-style="italic" fill="#000" style="text-rendering:geometricPrecision">(</text>
<text transform="translate(32.3 175.3) scale(1.08 1)" font-family="Liberation Sans, sans-serif" font-size="14.4" font-style="italic" fill="#000" style="text-rendering:geometricPrecision">0</text>
<text x="43.6" y="175.3" font-family="Liberation Sans, sans-serif" font-size="16" font-style="italic" fill="#000" style="text-rendering:geometricPrecision">)</text>
</svg>
</body></html>
